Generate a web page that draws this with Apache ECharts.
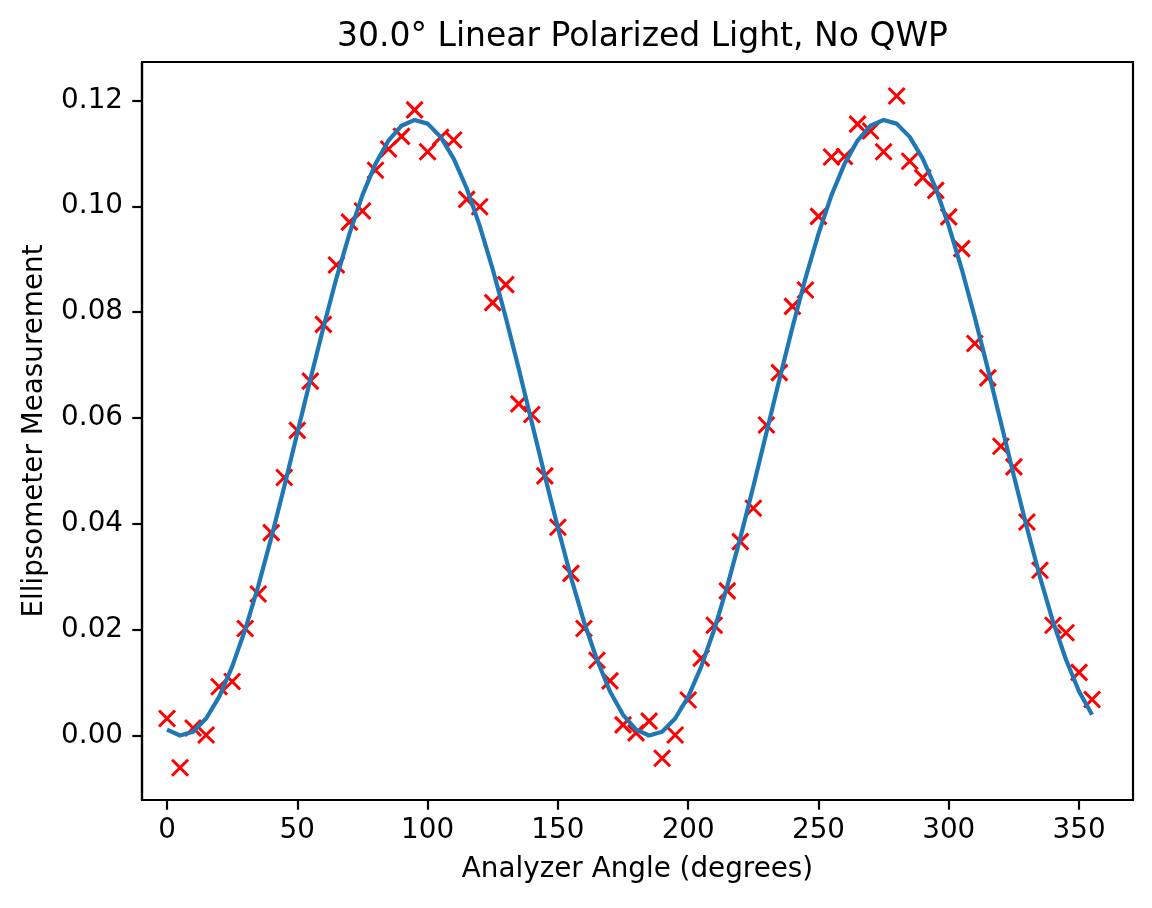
<!DOCTYPE html>
<html>
<head>
<meta charset="utf-8">
<script src="https://cdn.jsdelivr.net/npm/echarts@6/dist/echarts.min.js"></script>
<style>
html,body{margin:0;padding:0;background:#fff;}
#chart{width:1152px;height:908px;}
</style>
</head>
<body>
<div id="chart"></div>
<script>
// Analyzer angles (degrees)
const angles = [0,5,10,15,20,25,30,35,40,45,50,55,60,65,70,75,80,85,90,95,100,105,110,115,120,125,130,135,140,145,150,155,160,165,170,175,
  180,185,190,195,200,205,210,215,220,225,230,235,240,245,250,255,260,265,270,275,280,285,290,295,300,305,310,315,320,325,330,335,340,345,350,355];
// Measured values (red x markers)
const measured = [0.0033,-0.0060,0.0015,0.0002,0.0093,0.0103,0.0203,0.0268,0.0384,0.0488,0.0577,0.0670,0.0777,0.0889,0.0970,0.0991,0.1068,0.1108,0.1132,0.1182,
  0.1103,0.1130,0.1125,0.1013,0.0999,0.0818,0.0852,0.0627,0.0607,0.0491,0.0394,0.0307,0.0203,0.0143,0.0104,0.0021,
  0.0006,0.0028,-0.0042,0.0002,0.0068,0.0147,0.0209,0.0274,0.0367,0.0430,0.0587,0.0686,0.0811,0.0842,0.0981,0.1093,0.1094,0.1155,0.1142,0.1103,
  0.1208,0.1085,0.1054,0.1030,0.0980,0.0920,0.0741,0.0676,0.0547,0.0508,0.0404,0.0313,0.0209,0.0195,0.0120,0.0069];
// Fitted curve (blue line)
const fitted = [0.0012,0.0001,0.0008,0.0033,0.0074,0.0131,0.0201,0.0283,0.0374,0.0471,0.0572,0.0673,0.0771,0.0864,0.0948,0.1021,0.1080,0.1124,0.1152,0.1163,
  0.1156,0.1131,0.1090,0.1034,0.0963,0.0881,0.0790,0.0693,0.0592,0.0491,0.0393,0.0300,0.0216,0.0144,0.0084,0.0040,
  0.0012,0.0001,0.0008,0.0033,0.0074,0.0131,0.0201,0.0283,0.0374,0.0471,0.0572,0.0673,0.0771,0.0864,0.0948,0.1021,0.1080,0.1124,0.1152,0.1163,
  0.1156,0.1131,0.1090,0.1034,0.0963,0.0881,0.0790,0.0693,0.0592,0.0491,0.0393,0.0300,0.0216,0.0144,0.0084,0.0040];
// Tick labels
const xTicks = [0,50,100,150,200,250,300,350];
const yTicks = [0.00,0.02,0.04,0.06,0.08,0.10,0.12];
const titleText = '30.0° Linear Polarized Light, No QWP';
const xName = 'Analyzer Angle (degrees)';
const yName = 'Ellipsometer Measurement';

const font = 'DejaVu Sans';
const chart = echarts.init(document.getElementById('chart'), null, {renderer: 'canvas'});
const option = {
  animation: false,
  backgroundColor: '#ffffff',
  title: {
    text: titleText,
    left: 637.5,
    top: 16,
    textAlign: 'center',
    textStyle: {fontFamily: font, fontSize: 33, fontWeight: 'normal', color: '#000'}
  },
  grid: {
    left: 142, top: 62, right: 19, bottom: 108,
    show: true, borderColor: '#000', borderWidth: 2.2,
    outerBoundsMode: 'none'
  },
  xAxis: {
    type: 'value',
    min: -9.6, max: 370.7,
    name: xName,
    nameLocation: 'middle',
    nameGap: 56,
    nameTextStyle: {fontFamily: font, fontSize: 27.8, color: '#000'},
    axisLine: {show: true, onZero: false, lineStyle: {color: '#000', width: 2.2}},
    axisTick: {show: true, length: 9.7, lineStyle: {color: '#000', width: 2.2}, customValues: xTicks},
    axisLabel: {fontFamily: font, fontSize: 27.8, color: '#000', margin: 17, customValues: xTicks},
    splitLine: {show: false}
  },
  yAxis: {
    type: 'value',
    min: -0.01208, max: 0.12723,
    name: yName,
    nameLocation: 'middle',
    nameGap: 93,
    nameTextStyle: {fontFamily: font, fontSize: 27.8, color: '#000'},
    axisLine: {show: true, onZero: false, lineStyle: {color: '#000', width: 2.2}},
    axisTick: {show: true, length: 9.7, lineStyle: {color: '#000', width: 2.2}, customValues: yTicks},
    axisLabel: {fontFamily: font, fontSize: 27.8, color: '#000', margin: 19, customValues: yTicks,
      formatter: v => v.toFixed(2)},
    splitLine: {show: false}
  },
  series: [
    {
      type: 'scatter',
      data: angles.map((a, i) => [a, measured[i]]),
      symbol: 'path://M0,0L10,10M10,0L0,10',
      symbolSize: 16,
      itemStyle: {color: 'rgba(0,0,0,0)', borderColor: '#ff0000', borderWidth: 3, opacity: 1},
      emphasis: {disabled: true},
      z: 2
    },
    {
      type: 'line',
      data: angles.map((a, i) => [a, fitted[i]]),
      showSymbol: false,
      symbol: 'none',
      lineStyle: {color: '#1f77b4', width: 4.2},
      z: 3
    }
  ]
};
chart.setOption(option);
</script>
</body>
</html>
